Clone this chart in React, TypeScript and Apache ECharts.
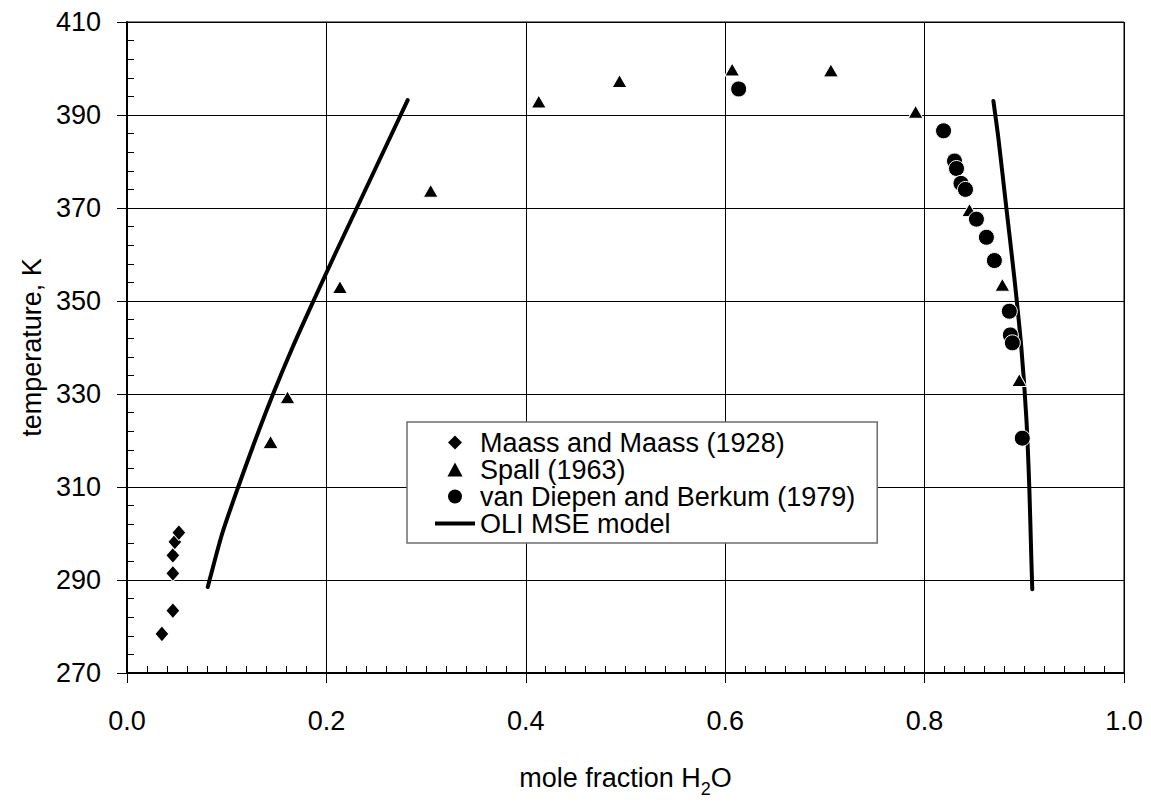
import React, { useEffect, useRef } from "react";
import * as echarts from "echarts";

const FONT = "'Liberation Sans', Arial, sans-serif";
const FS = 27;

// Maass and Maass (1928)
const maassX = [0.035, 0.046, 0.046, 0.046, 0.048, 0.052];
const maassT = [278.4, 283.4, 291.4, 295.3, 298.2, 300.2];

// Spall (1963)
const spallX = [0.144, 0.161, 0.2136, 0.3046, 0.413, 0.494, 0.607, 0.706, 0.791, 0.845, 0.878, 0.895];
const spallT = [319.7, 329.3, 353.0, 373.7, 392.9, 397.3, 399.8, 399.6, 390.7, 369.6, 353.5, 333.0];

// van Diepen and Berkum (1979)
const vdbX = [0.6135, 0.819, 0.83, 0.832, 0.8365, 0.841, 0.852, 0.862, 0.87, 0.885, 0.886, 0.888, 0.898];
const vdbT = [395.6, 386.6, 380.1, 378.5, 375.3, 374.0, 367.6, 363.7, 358.7, 347.8, 342.7, 341.0, 320.5];

// OLI MSE model - left branch
const modelLeftX = [0.081, 0.0828, 0.0955, 0.1115, 0.1285, 0.1465, 0.166, 0.187, 0.2085, 0.2305, 0.2525, 0.2745, 0.2815];
const modelLeftT = [288.5, 290, 300, 310, 320, 330, 340, 350, 360, 370, 380, 390, 393.2];
// OLI MSE model - right branch
const modelRightX = [0.869, 0.874, 0.882, 0.89, 0.897, 0.902, 0.905, 0.907, 0.908];
const modelRightT = [393, 385, 370, 355, 340, 325, 310, 295, 288];

const seriesNames = ["Maass and Maass (1928)", "Spall (1963)", "van Diepen and Berkum (1979)", "OLI MSE model"];

const xMin = 0, xMax = 1, xStep = 0.2;
const yMin = 270, yMax = 410, yStep = 20;

const zip = (xs: number[], ys: number[]) => xs.map((x, i) => [x, ys[i]]);

export default function App() {
  const ref = useRef<HTMLDivElement>(null);
  useEffect(() => {
    if (!ref.current) return;
    const chart = echarts.init(ref.current, null, { renderer: "svg" });
    const txt = { fontFamily: FONT, fontSize: FS, color: "#000" };
    const markerStyle = { color: "#000", borderColor: "#fff", borderWidth: 1, opacity: 1 };
    const lineStyle = { color: "#000", width: 4, cap: "round", join: "round" };
    chart.setOption({
      animation: false,
      backgroundColor: "#fff",
      grid: { left: 127, right: 27, top: 22, bottom: 129, show: true, borderColor: "#000", borderWidth: 1 },
      legend: {
        orient: "vertical",
        left: 407,
        top: 422,
        backgroundColor: "#fff",
        borderColor: "#6e6e6e",
        borderWidth: 1.5,
        borderRadius: 0,
        padding: [7, 22, 6, 28],
        itemGap: 0,
        itemWidth: 40,
        itemHeight: 14,
        symbolKeepAspect: true,
        itemStyle: { color: "#000", borderWidth: 0, opacity: 1 },
        textStyle: { ...txt, lineHeight: 27 },
        data: [
          { name: seriesNames[0], icon: "path://M7,0 L14,7 L7,14 L0,7 Z" },
          { name: seriesNames[1], icon: "path://M6.5,0 L13,12 L0,12 Z" },
          { name: seriesNames[2], icon: "path://M0,7 A7,7 0 1,0 14,7 A7,7 0 1,0 0,7 Z" },
          { name: seriesNames[3], icon: "path://M0,0 L40,0 L40,4 L0,4 Z" },
        ],
      },
      xAxis: [
        {
          type: "value",
          min: xMin,
          max: xMax,
          interval: xStep,
          position: "bottom",
          axisLine: { show: true, onZero: false, lineStyle: { color: "#000", width: 2 } },
          axisTick: { show: true, inside: false, length: 10, lineStyle: { color: "#000", width: 1 } },
          axisLabel: { ...txt, margin: 34, formatter: (v: number) => v.toFixed(1) },
          splitLine: { show: true, lineStyle: { color: "#000", width: 1 } },
          name: "{a|mole fraction H}{sub|2}{a|O}",
          nameLocation: "middle",
          nameGap: 85,
          nameTextStyle: {
            ...txt,
            rich: {
              a: { fontFamily: FONT, fontSize: FS, color: "#000", lineHeight: 40, verticalAlign: "middle" },
              sub: { fontFamily: FONT, fontSize: 18, color: "#000", lineHeight: 20, verticalAlign: "bottom" },
            },
          },
        },
        {
          type: "value",
          min: xMin,
          max: xMax,
          interval: xStep,
          position: "bottom",
          offset: 0,
          axisLine: { show: false },
          axisTick: { show: false, inside: true },
          minorTick: { show: true, splitNumber: 10, length: 7, lineStyle: { color: "#000", width: 1 } },
          axisLabel: { show: false },
          splitLine: { show: false },
        },
      ],
      yAxis: [
        {
          type: "value",
          min: yMin,
          max: yMax,
          interval: yStep,
          position: "left",
          axisLine: { show: true, onZero: false, lineStyle: { color: "#000", width: 2 } },
          axisTick: { show: true, inside: false, length: 10, lineStyle: { color: "#000", width: 1 } },
          axisLabel: { ...txt, margin: 26 },
          splitLine: { show: true, lineStyle: { color: "#000", width: 1 } },
          name: "temperature, K",
          nameLocation: "middle",
          nameGap: 80,
          nameTextStyle: txt,
        },
        {
          type: "value",
          min: yMin,
          max: yMax,
          interval: yStep,
          position: "left",
          offset: 0,
          axisLine: { show: false },
          axisTick: { show: false, inside: true },
          minorTick: { show: true, splitNumber: 5, length: 7, lineStyle: { color: "#000", width: 1 } },
          axisLabel: { show: false },
          splitLine: { show: false },
        },
      ],
      series: [
        {
          name: seriesNames[3],
          type: "line",
          data: zip(modelLeftX, modelLeftT),
          smooth: 0.25,
          showSymbol: false,
          symbol: "none",
          lineStyle,
          itemStyle: { color: "#000" },
          z: 3,
        },
        {
          name: seriesNames[3],
          type: "line",
          data: zip(modelRightX, modelRightT),
          smooth: 0.25,
          showSymbol: false,
          symbol: "none",
          lineStyle,
          itemStyle: { color: "#000" },
          z: 3,
        },
        {
          name: seriesNames[0],
          type: "scatter",
          symbol: "diamond",
          symbolSize: [14, 16],
          data: zip(maassX, maassT),
          itemStyle: markerStyle,
          z: 4,
        },
        {
          name: seriesNames[1],
          type: "scatter",
          symbol: "triangle",
          symbolSize: [15, 13],
          data: zip(spallX, spallT),
          itemStyle: markerStyle,
          z: 4,
        },
        {
          name: seriesNames[2],
          type: "scatter",
          symbol: "circle",
          symbolSize: 16,
          data: zip(vdbX, vdbT),
          itemStyle: markerStyle,
          z: 4,
        },
      ],
    });
    return () => chart.dispose();
  }, []);
  return <div ref={ref} style={{ position: "fixed", left: 0, top: 0, width: 1151, height: 803, background: "#fff" }} />;
}
